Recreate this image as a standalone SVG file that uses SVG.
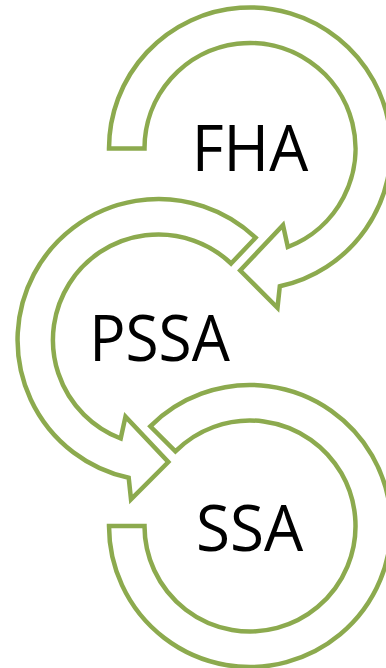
<svg xmlns="http://www.w3.org/2000/svg" width="386" height="668" viewBox="0 0 386 668">
  <style>
    .arrow { fill: #ffffff; stroke: #8caa4e; stroke-width: 4.5; stroke-linejoin: miter; stroke-miterlimit: 10; }
    .label { font-family: "Open Sans", "Noto Sans", "Liberation Sans", sans-serif; font-size: 64px; fill: #000000; text-anchor: middle; }
  </style>
  <rect width="386" height="668" fill="#ffffff"/>
  <g id="node-fha">
    <path class="arrow" d="M144.5,148.5 L109,148.5 A141,141 0 1 1 279.8,286.3 L277.5,307.8 L240.2,270.5 L283,225.1 L287.8,247 A105.5,105.5 0 1 0 144.5,148.5 Z"/>
    <text class="label" x="250" y="170.5" textLength="116.6" lengthAdjust="spacingAndGlyphs">FHA</text>
  </g>
  <g id="node-pssa">
    <path class="arrow" d="M231.1,263.5 L255.6,237.7 A141,141 0 1 0 128.7,477.8 L131,499.3 L168.3,462 L125.5,416.6 L120.7,438.5 A105.5,105.5 0 1 1 231.1,263.5 Z"/>
    <text class="label" x="159.5" y="360.5" textLength="140.7" lengthAdjust="spacingAndGlyphs">PSSA</text>
  </g>
  <g id="node-ssa">
    <path class="arrow" d="M144.5,526 L109,526 A141,141 0 1 0 150.3,426.3 L175.4,451.4 A105.5,105.5 0 1 1 144.5,526 Z"/>
    <text class="label" x="249.7" y="550.5" textLength="107.3" lengthAdjust="spacingAndGlyphs">SSA</text>
  </g>
</svg>
